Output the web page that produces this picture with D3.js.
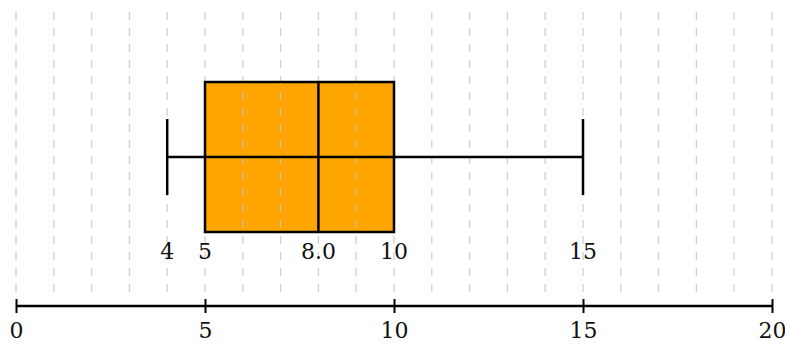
<!DOCTYPE html>
<html>
<head>
<meta charset="utf-8">
<script src="https://cdn.jsdelivr.net/npm/d3@7"></script>
<style>
  html, body { margin: 0; padding: 0; background: #fff; }
  svg { display: block; }
</style>
</head>
<body>
<svg id="chart" width="785" height="344"></svg>
<script>
// Five-number summary of the sample
const summaryKeys = ["min", "q1", "median", "q3", "max"];
const summaryValues = [4, 5, 8, 10, 15];
const summaryLabels = ["4", "5", "8.0", "10", "15"];

// Axis domain and ticks
const axisDomain = [0, 20];
const axisTicks = [0, 5, 10, 15, 20];
const gridValues = d3.range(0, 21, 1);

const FONT = "DejaVu Serif, Liberation Serif, serif";
const stat = Object.fromEntries(summaryKeys.map((k, i) => [k, summaryValues[i]]));

const svg = d3.select("#chart");
const x = d3.scaleLinear().domain(axisDomain).range([16, 772]);

const boxTop = 82, boxBottom = 232, midY = 157;
const capTop = 119, capBottom = 195;
const axisY = 306;

// Box (interquartile range)
svg.append("rect")
  .attr("x", x(stat.q1))
  .attr("y", boxTop)
  .attr("width", x(stat.q3) - x(stat.q1))
  .attr("height", boxBottom - boxTop)
  .attr("fill", "#ffa500");

// Dashed vertical grid, drawn over the box
svg.append("g")
  .selectAll("line")
  .data(gridValues)
  .join("line")
  .attr("x1", d => x(d)).attr("x2", d => x(d))
  .attr("y1", 12).attr("y2", 298)
  .attr("stroke", "#c4c4c4")
  .attr("stroke-opacity", 0.8)
  .attr("stroke-width", 1.3)
  .attr("stroke-dasharray", "8,8");

// Box outline
svg.append("rect")
  .attr("x", x(stat.q1))
  .attr("y", boxTop)
  .attr("width", x(stat.q3) - x(stat.q1))
  .attr("height", boxBottom - boxTop)
  .attr("fill", "none")
  .attr("stroke", "#000")
  .attr("stroke-width", 2.5);

// Whisker span, caps and median
const lines = svg.append("g").attr("stroke", "#000").attr("stroke-width", 2.5);
lines.append("line")
  .attr("x1", x(stat.min)).attr("x2", x(stat.max))
  .attr("y1", midY).attr("y2", midY);
lines.append("line")
  .attr("x1", x(stat.min)).attr("x2", x(stat.min))
  .attr("y1", capTop).attr("y2", capBottom);
lines.append("line")
  .attr("x1", x(stat.max)).attr("x2", x(stat.max))
  .attr("y1", capTop).attr("y2", capBottom);
lines.append("line")
  .attr("x1", x(stat.median)).attr("x2", x(stat.median))
  .attr("y1", boxTop).attr("y2", boxBottom);

// Value labels under the box
svg.append("g")
  .selectAll("text")
  .data(summaryValues)
  .join("text")
  .attr("x", d => x(d))
  .attr("y", 259)
  .attr("text-anchor", "middle")
  .style("font-family", FONT)
  .style("font-size", "22px")
  .attr("fill", "#111")
  .text((d, i) => summaryLabels[i]);

// Bottom axis
const axis = d3.axisBottom(x)
  .tickValues(axisTicks)
  .tickFormat(d3.format("d"))
  .tickSizeOuter(0)
  .tickSizeInner(7)
  .tickPadding(10);

const axisG = svg.append("g")
  .attr("transform", `translate(0,${axisY})`)
  .call(axis);
axisG.select(".domain").attr("stroke", "#000").attr("stroke-width", 2.5)
  .attr("d", `M${x(axisDomain[0])},0H${x(axisDomain[1])}`);
axisG.selectAll(".tick line")
  .attr("y1", -7).attr("y2", 7)
  .attr("stroke", "#000").attr("stroke-width", 2);
axisG.selectAll(".tick text")
  .attr("dy", null)
  .attr("y", 32)
  .style("font-family", FONT)
  .style("font-size", "22px")
  .attr("fill", "#111");
</script>
</body>
</html>
